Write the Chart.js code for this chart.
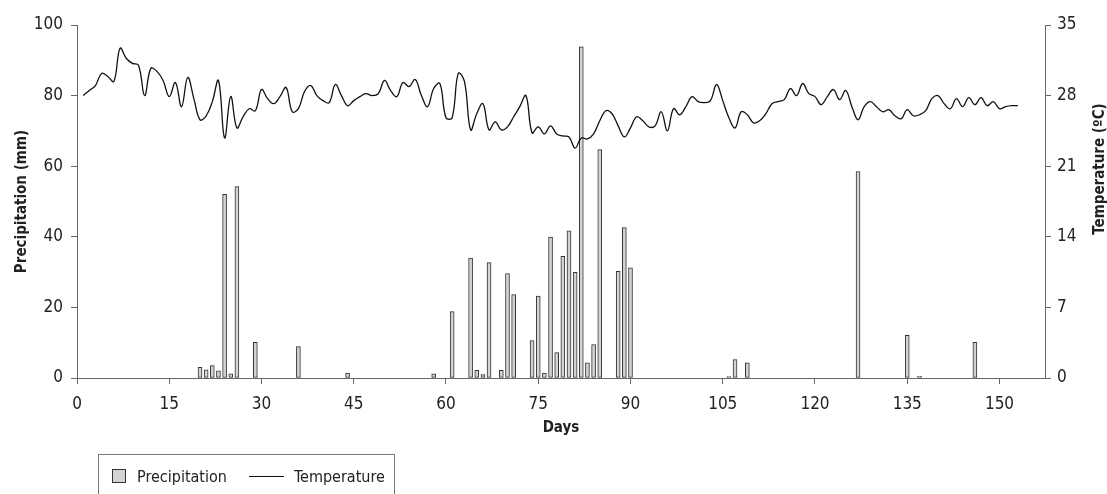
<!DOCTYPE html>
<html>
<head>
<meta charset="utf-8">
<script src="https://cdn.jsdelivr.net/npm/chart.js@4.4.1/dist/chart.umd.min.js"></script>
<style>
  body { margin: 0; background: #fff; }
  #wrap { position: relative; width: 1107px; height: 494px; overflow: hidden; background: #fff; }
  #legend {
    position: absolute; left: 98px; top: 454px; width: 297px; height: 60px;
    border: 1px solid #777; box-sizing: border-box;
    font-family: 'Liberation Sans Narrow', 'DejaVu Sans Condensed', 'Arial Narrow', sans-serif;
    font-size: 16px; color: #222;
  }
  #legend .item { position: absolute; top: 13px; height: 18px; line-height: 18px; white-space: nowrap; }
  #legend .sq { position: absolute; left: 13px; top: 14px; width: 12px; height: 12px; background: #d3d3d3; border: 1px solid #333; }
  #legend .ln { position: absolute; left: 150px; top: 21px; width: 35px; height: 0; border-top: 1px solid #111; }
</style>
</head>
<body>
<div id="wrap">
  <canvas id="c" width="1107" height="494"></canvas>
  <div id="legend">
    <div class="sq"></div>
    <div class="item" style="left:38px;">Precipitation</div>
    <div class="ln"></div>
    <div class="item" style="left:195px;">Temperature</div>
  </div>
</div>
<script>
// ---------- DATA ----------
const xTickLabels = [0, 15, 30, 45, 60, 75, 90, 105, 120, 135, 150];
const precipTickLabels = [0, 20, 40, 60, 80, 100];
const tempTickLabels = [0, 7, 14, 21, 28, 35];

const precipDays = [20, 21, 22, 23, 24, 25, 26, 29, 36, 44, 58, 61, 64, 65, 66, 67, 69, 70, 71, 74,
                    75, 76, 77, 78, 79, 80, 81, 82, 83, 84, 85, 88, 89, 90, 106, 107, 109, 127, 135, 137, 146];
const precipValues = [3.0, 2.3, 3.5, 2.0, 52.0, 1.2, 54.2, 10.1, 8.9, 1.4, 1.2, 18.8, 34.0, 2.2, 1.0, 32.7, 2.2, 29.6, 23.6, 10.6,
                      23.2, 1.4, 39.9, 7.2, 34.5, 41.7, 29.9, 93.8, 4.3, 9.5, 64.7, 30.2, 42.6, 31.2, 0.4, 5.2, 4.3, 58.5, 12.1, 0.5, 10.1];

// daily mean temperature, days 1..153
const tempValues = [
  28.0, 28.5, 29.0, 30.2, 29.9, 29.4, 32.7, 31.7, 31.2, 31.0,
  28.0, 30.7, 30.4, 29.5, 27.9, 29.3, 26.9, 29.8, 27.7, 25.6,
  26.0, 27.4, 29.5, 23.8, 27.9, 24.8, 25.9, 26.7, 26.5, 28.6,
  27.7, 27.2, 27.9, 28.8, 26.4, 26.7, 28.4, 29.0, 28.0, 27.5,
  27.3, 29.1, 28.0, 27.0, 27.5, 27.9, 28.2, 28.0, 28.2, 29.5,
  28.5, 27.9, 29.3, 28.9, 29.6, 28.0, 26.9, 28.7, 29.2, 25.8,
  25.8, 30.2, 29.4, 24.6, 26.2, 27.2, 24.6, 25.4, 24.6, 24.9,
  25.9, 26.9, 28.0, 24.3, 24.9, 24.2, 25.0, 24.2, 24.0, 23.9,
  22.8, 23.8, 23.7, 24.2, 25.5, 26.5, 26.2, 25.0, 23.9, 24.8,
  25.9, 25.5, 24.9, 25.0, 26.4, 24.5, 26.7, 26.1, 26.9, 27.9,
  27.4, 27.3, 27.5, 29.1, 27.5, 25.8, 24.8, 26.4, 26.1, 25.3,
  25.5, 26.2, 27.2, 27.4, 27.6, 28.7, 28.0, 29.2, 28.2, 27.9,
  27.1, 27.9, 28.6, 27.6, 28.5, 26.9, 25.6, 26.9, 27.4, 26.9,
  26.4, 26.6, 26.0, 25.7, 26.6, 26.0, 26.1, 26.5, 27.7, 28.0,
  27.2, 26.7, 27.7, 26.9, 27.8, 27.1, 27.8, 27.0, 27.4, 26.7,
  26.9, 27.0, 27.0
];
const tempDays = tempValues.map((v, i) => i + 1);

// ---------- CHART ----------
const FONT = "'Liberation Sans Narrow', 'DejaVu Sans Condensed', 'Arial Narrow', sans-serif";
const AXIS = '#666';
const TXT = '#222';

const rightTitle = {
  id: 'rightTitle',
  afterDraw(chart) {
    const ctx = chart.ctx;
    ctx.save();
    ctx.translate(1100, 169);
    ctx.rotate(-Math.PI / 2);
    ctx.font = 'bold 15px ' + FONT;
    ctx.fillStyle = TXT;
    ctx.textAlign = 'center';
    ctx.textBaseline = 'middle';
    ctx.fillText('Temperature (ºC)', 0, 0);
    ctx.restore();
  }
};

const setTicks = arr => scale => { scale.ticks = arr.map(v => ({ value: v })); };

new Chart(document.getElementById('c'), {
  type: 'bar',
  data: {
    datasets: [
      {
        type: 'line',
        label: 'Temperature',
        data: tempDays.map((d, i) => ({ x: d, y: tempValues[i] })),
        yAxisID: 'y2',
        borderColor: '#111',
        borderWidth: 1.3,
        pointRadius: 0,
        tension: 0.4,
        fill: false,
        order: 0
      },
      {
        type: 'bar',
        label: 'Precipitation',
        data: precipDays.map((d, i) => ({ x: d, y: precipValues[i] })),
        yAxisID: 'y',
        backgroundColor: '#d3d3d3',
        borderColor: '#333',
        borderWidth: 1,
        borderSkipped: false,
        barThickness: 4,
        order: 1
      }
    ]
  },
  options: {
    responsive: false,
    animation: false,
    layout: { padding: { top: 25, bottom: 46, left: 0, right: 0 } },
    plugins: { legend: { display: false }, tooltip: { enabled: false } },
    scales: {
      x: {
        type: 'linear',
        offset: false,
        min: 0,
        max: 157.4,
        afterBuildTicks: setTicks(xTickLabels),
        afterFit: s => { s.height = 70; },
        grid: { display: true, offset: false, drawOnChartArea: false, drawTicks: true, tickLength: 6, color: AXIS },
        border: { display: true, color: AXIS, width: 1 },
        ticks: { font: { family: FONT, size: 17 }, color: TXT, padding: 10, maxRotation: 0 },
        title: { display: true, text: 'Days', font: { family: FONT, size: 15, weight: 'bold' }, color: TXT, padding: { top: 0, bottom: 11 } }
      },
      y: {
        position: 'left',
        min: 0,
        max: 100,
        afterBuildTicks: setTicks(precipTickLabels),
        afterFit: s => { s.width = 77; },
        grid: { display: true, drawOnChartArea: false, drawTicks: true, tickLength: 6, color: AXIS },
        border: { display: true, color: AXIS, width: 1 },
        ticks: { font: { family: FONT, size: 17 }, color: TXT, padding: 8 },
        title: { display: true, text: 'Precipitation (mm)', font: { family: FONT, size: 15, weight: 'bold' }, color: TXT, padding: { top: 13, bottom: 0 } }
      },
      y2: {
        position: 'right',
        min: 0,
        max: 35,
        afterBuildTicks: setTicks(tempTickLabels),
        afterFit: s => { s.width = 62; },
        grid: { display: true, drawOnChartArea: false, drawTicks: true, tickLength: 6, color: AXIS },
        border: { display: true, color: AXIS, width: 1 },
        ticks: { font: { family: FONT, size: 17 }, color: TXT, padding: 6 }
      }
    }
  },
  plugins: [rightTitle]
});
</script>
</body>
</html>
